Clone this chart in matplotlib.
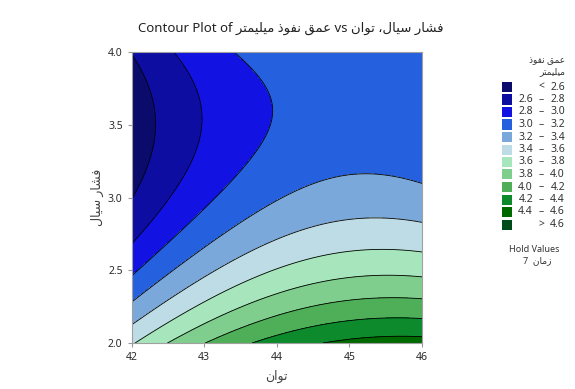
import numpy as np
import matplotlib
matplotlib.use('Agg')
import matplotlib.pyplot as plt
from matplotlib.patches import Rectangle

plt.rcParams['font.family'] = ['Noto Sans', 'DejaVu Sans']

# points: (توان, فشار سیال, level)
pt_x = [42.0, 42.36, 42.0,
        42.56, 43.0, 42.62, 42.0,
        43.36, 43.95, 43.29, 42.0,
        44.32, 45.33, 46.0, 42.99, 42.0,
        46.0, 45.45, 43.98, 42.97, 42.0,
        46.0, 45.5, 43.98, 42.97, 42.02,
        46.0, 45.6, 43.98, 42.5,
        46.0, 43.98, 43.03,
        46.0, 45.1, 43.75,
        46.0, 44.8]
pt_y = [4.0, 3.5, 2.93,
        4.0, 3.5, 3.02, 2.65,
        4.0, 3.55, 3.02, 2.45,
        3.03, 3.15, 3.11, 2.90, 2.3,
        2.83, 2.85, 2.66, 2.43, 2.12,
        2.63, 2.64, 2.49, 2.30, 2.0,
        2.45, 2.46, 2.33, 2.0,
        2.31, 2.21, 2.0,
        2.17, 2.16, 2.0,
        2.06, 2.0]
pt_z = [2.6] * 3 + [2.8] * 4 + [3.0] * 4 + [3.2] * 5 + [3.4] * 5 + \
       [3.6] * 5 + [3.8] * 4 + [4.0] * 3 + [4.2] * 3 + [4.4] * 2

levels = [2.6, 2.8, 3.0, 3.2, 3.4, 3.6, 3.8, 4.0, 4.2, 4.4, 4.6]
colors = ['#0b0b6c', '#0d0da2', '#1212e2', '#2560de', '#7ba8da', '#bddce6',
          '#a7e6bd', '#7fce8d', '#4faf58', '#0c8a2c', '#006a00', '#004b1a']
legend_labels = [('', '<', '2.6')] + \
    [('%.1f' % a, '–', '%.1f' % b) for a, b in zip(levels[:-1], levels[1:])] + \
    [('', '>', '4.6')]
x_ticks = [42, 43, 44, 45, 46]
y_ticks = [2.0, 2.5, 3.0, 3.5, 4.0]
hold_value = 7

# simple persian shaping (matplotlib has no bidi / joining)
FORMS = {
    'ا': ('\uFE8D', '\uFE8E', None, None),
    'ت': ('\uFE95', '\uFE96', '\uFE97', '\uFE98'),
    'ذ': ('\uFEAB', '\uFEAC', None, None),
    'ر': ('\uFEAD', '\uFEAE', None, None),
    'ز': ('\uFEAF', '\uFEB0', None, None),
    'س': ('\uFEB1', '\uFEB2', '\uFEB3', '\uFEB4'),
    'ش': ('\uFEB5', '\uFEB6', '\uFEB7', '\uFEB8'),
    'ع': ('\uFEC9', '\uFECA', '\uFECB', '\uFECC'),
    'ف': ('\uFED1', '\uFED2', '\uFED3', '\uFED4'),
    'ق': ('\uFED5', '\uFED6', '\uFED7', '\uFED8'),
    'ل': ('\uFEDD', '\uFEDE', '\uFEDF', '\uFEE0'),
    'م': ('\uFEE1', '\uFEE2', '\uFEE3', '\uFEE4'),
    'ن': ('\uFEE5', '\uFEE6', '\uFEE7', '\uFEE8'),
    'و': ('\uFEED', '\uFEEE', None, None),
    'ی': ('\uFBFC', '\uFBFD', '\uFBFE', '\uFBFF'),
}


def fa(text):
    out = []
    for i, ch in enumerate(text):
        f = FORMS.get(ch)
        if f is None:
            out.append(ch)
            continue
        prev = text[i - 1] if i > 0 else ''
        nxt = text[i + 1] if i + 1 < len(text) else ''
        jp = prev in FORMS and FORMS[prev][2] is not None
        jn = nxt in FORMS and f[2] is not None
        if jp and jn:
            out.append(f[3])
        elif jp:
            out.append(f[1])
        elif jn:
            out.append(f[2])
        else:
            out.append(f[0])
    return ''.join(out)[::-1]


# quadratic response surface through the read points
px, py, pz = np.array(pt_x), np.array(pt_y), np.array(pt_z)
A = np.column_stack([np.ones_like(px), px, py, px ** 2, py ** 2, px * py])
coef = np.linalg.lstsq(A, pz, rcond=None)[0]
gx, gy = np.meshgrid(np.linspace(42, 46, 200), np.linspace(2, 4, 200))
gz = coef[0] + coef[1] * gx + coef[2] * gy + coef[3] * gx ** 2 + coef[4] * gy ** 2 + coef[5] * gx * gy

fig = plt.figure(figsize=(5.75, 3.89), dpi=100)
ax = fig.add_axes([0.229, 0.118, 0.505, 0.748])
fill_levels = [min(gz.min(), 2.6) - 1] + levels + [max(gz.max(), 4.6) + 1]
ax.contourf(gx, gy, gz, levels=fill_levels, colors=colors)
ax.contour(gx, gy, gz, levels=levels, colors='black', linewidths=0.6)

ax.set_xlim(42, 46)
ax.set_ylim(2, 4)
ax.set_xticks(x_ticks)
ax.set_yticks(y_ticks)
ax.set_yticklabels(['%.1f' % v for v in y_ticks])
ax.tick_params(labelsize=7.5, colors='#999999', labelcolor='#2b2b2b', length=3, width=0.8)
for s in ax.spines.values():
    s.set_color('#a0a0a0')
ax.set_xlabel(fa('توان'), fontsize=9, color='#444444', labelpad=5)
ax.set_ylabel(fa('فشار سیال'), fontsize=9, color='#444444', labelpad=3)

fig.text(0.505, 0.928, 'Contour Plot of ' + fa('عمق نفوذ میلیمتر') + ' vs ' + fa('فشار سیال، توان'),
         ha='center', va='center', fontsize=9.5, color='#222222')

# legend
W, H = 575.0, 389.0
fig.text(565 / W, 1 - 61 / H, fa('عمق نفوذ'), ha='right', va='center', fontsize=6.5, color='#333333')
fig.text(565 / W, 1 - 72 / H, fa('میلیمتر'), ha='right', va='center', fontsize=6.5, color='#333333')
for i, (c, (lo, sym, hi)) in enumerate(zip(colors, legend_labels)):
    yc = 1 - (87 + i * 12.5) / H
    fig.patches.append(Rectangle((502 / W, yc - 5 / H), 10 / W, 10 / H, transform=fig.transFigure,
                                 facecolor=c, edgecolor='none'))
    fig.text(533 / W, yc, lo, ha='right', va='center', fontsize=7.5, color='#333333')
    fig.text(541 / W, yc, sym, ha='center', va='center', fontsize=7.5, color='#333333')
    fig.text(565 / W, yc, hi, ha='right', va='center', fontsize=7.5, color='#333333')

fig.text(534 / W, 1 - 249 / H, 'Hold Values', ha='center', va='center', fontsize=6.5, color='#333333')
fig.text(537 / W, 1 - 261 / H, '%d  ' % hold_value + fa('زمان'), ha='center', va='center',
         fontsize=6.5, color='#333333')

fig.savefig('out.png', dpi=100)
